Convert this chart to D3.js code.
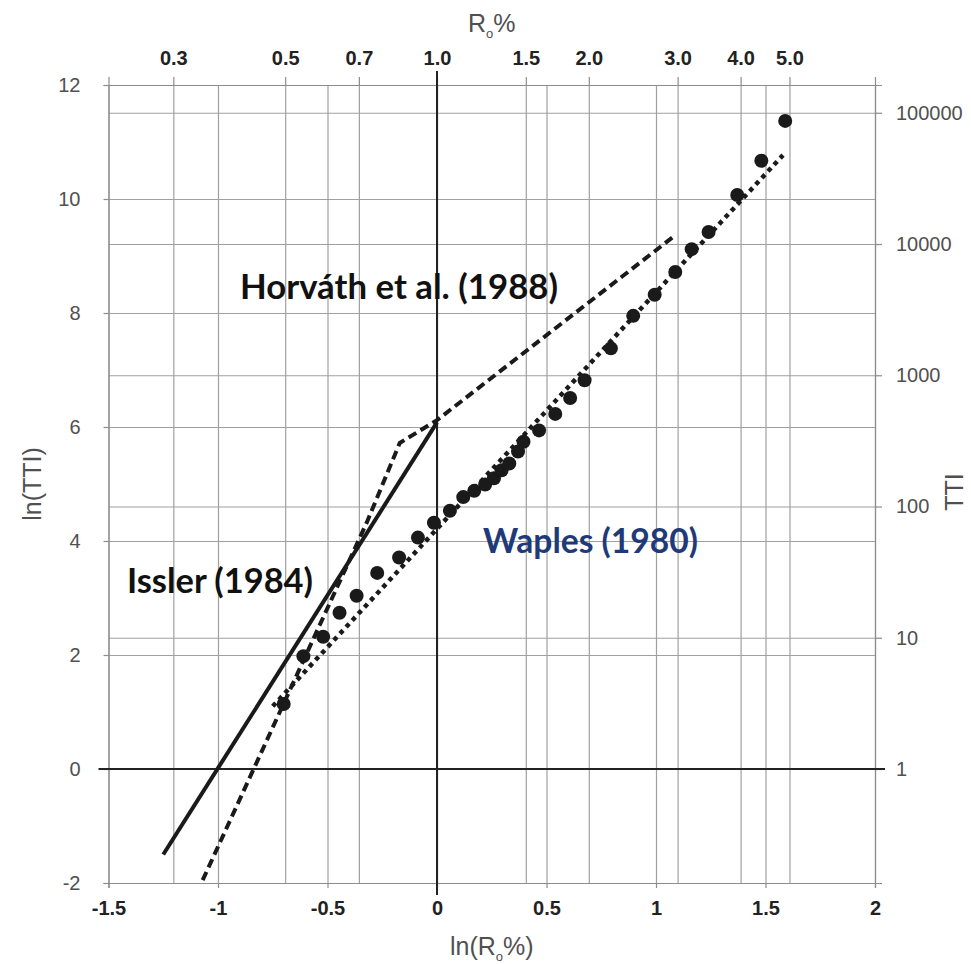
<!DOCTYPE html>
<html lang="en">

<head>
    <meta charset="UTF-8">
    <title>ln(TTI) vs ln(Ro%)</title>
    <style>
        body {
            margin: 0;
            background: #fff;
        }

        .grid line {
            stroke: #a0a0a0;
            stroke-width: 1.2px;
        }

        .grid path {
            stroke-width: 0;
        }

        .axis path,
        .axis line {
            stroke: #8c8c8c;
            stroke-width: 1.2px;
        }

        .axis text {
            font-family: 'Liberation Sans', Arial, sans-serif;
        }

        .axis-num text {
            font-size: 20px;
            fill: #505050;
        }

        .axis-bold text {
            font-size: 20px;
            font-weight: bold;
            fill: #222;
        }

        .axis-title {
            font-family: 'Liberation Sans', Arial, sans-serif;
            font-size: 25px;
            fill: #505050;
            text-anchor: middle;
        }

        .zero {
            stroke: #222;
            stroke-width: 2px;
        }

        .issler {
            fill: none;
            stroke: #1a1a1a;
            stroke-width: 4px;
        }

        .horvath {
            fill: none;
            stroke: #1a1a1a;
            stroke-width: 4px;
            stroke-dasharray: 9, 5;
        }

        .waples {
            fill: none;
            stroke: #1a1a1a;
            stroke-width: 4.5px;
            stroke-dasharray: 4.5, 4.5;
        }

        .dot {
            fill: #1a1a1a;
        }

        .note {
            font-family: Lato, 'Open Sans', sans-serif;
            font-weight: bold;
            font-size: 34px;
            fill: #111;
        }

        .note-blue {
            fill: #1f3a78;
        }
    </style>
</head>

<body>
    <script src="https://d3js.org/d3.v7.min.js"></script>
    <script>
        // tick values
        const xTicks = [-1.5, -1, -0.5, 0, 0.5, 1, 1.5, 2];
        const yTicks = [-2, 0, 2, 4, 6, 8, 10, 12];
        const roTicks = [0.3, 0.5, 0.7, 1.0, 1.5, 2.0, 3.0, 4.0, 5.0];
        const ttiTicks = [1, 10, 100, 1000, 10000, 100000];

        // measured points
        const lnRo = [-0.70, -0.61, -0.52, -0.445, -0.367, -0.273, -0.173, -0.087, -0.014, 0.059,
            0.12, 0.17, 0.22, 0.26, 0.295, 0.33, 0.37, 0.395, 0.466, 0.54, 0.608, 0.674,
            0.794, 0.896, 0.994, 1.088, 1.163, 1.24, 1.371, 1.481, 1.59];
        const lnTTI = [1.14, 1.98, 2.32, 2.74, 3.04, 3.44, 3.71, 4.06, 4.32, 4.53,
            4.77, 4.88, 4.99, 5.10, 5.24, 5.36, 5.57, 5.74, 5.94, 6.23, 6.51, 6.82,
            7.38, 7.95, 8.32, 8.72, 9.12, 9.42, 10.07, 10.67, 11.37];

        // published correlations
        const isslerX = [-1.25, 0];
        const isslerY = [-1.5, 6.08];
        const horvathX = [-1.07, -0.32, -0.17, 0, 1.09];
        const horvathY = [-1.95, 4.33, 5.72, 6.12, 9.37];
        const waplesX = [-0.75, 1.58];
        const waplesY = [1.1, 10.77];

        const svgWidth = 971;
        const svgHeight = 964;
        const margin = { top: 85, right: 96, bottom: 81, left: 108.5 };
        const width = svgWidth - margin.left - margin.right;
        const height = svgHeight - margin.top - margin.bottom;

        const xScale = d3.scaleLinear().domain([-1.5, 2]).range([0, width]);
        const yScale = d3.scaleLinear().domain([-2, 12]).range([height, 0]);

        const container = d3.select('body')
            .append('svg')
            .attr('width', svgWidth)
            .attr('height', svgHeight);
        const chart = container.append('g')
            .attr('transform', `translate(${margin.left}, ${margin.top})`);

        // grid
        const xGrid = xTicks.concat(roTicks.map(Math.log));
        const yGrid = yTicks.concat(ttiTicks.map(Math.log));

        chart.append('g')
            .attr('class', 'grid')
            .attr('transform', `translate(0, ${height})`)
            .call(d3.axisBottom(xScale).tickValues(xGrid).tickSize(-height).tickFormat(''));
        chart.append('g')
            .attr('class', 'grid')
            .call(d3.axisLeft(yScale).tickValues(yGrid).tickSize(-width).tickFormat(''));

        // axes (plain hyphen for negatives, as in the original)
        chart.append('g')
            .attr('class', 'axis axis-num')
            .call(d3.axisLeft(yScale).tickValues(yTicks).tickSize(5).tickPadding(23)
                .tickFormat(d => String(d)));
        chart.append('g')
            .attr('class', 'axis axis-num')
            .attr('transform', `translate(${width}, 0)`)
            .call(d3.axisRight(yScale).tickValues(ttiTicks.map(Math.log)).tickSize(7).tickPadding(14)
                .tickFormat((d, i) => ttiTicks[i]));
        chart.append('g')
            .attr('class', 'axis axis-bold')
            .attr('transform', `translate(0, ${height})`)
            .call(d3.axisBottom(xScale).tickValues(xTicks).tickSize(5).tickPadding(13)
                .tickFormat(d => String(d)));
        chart.append('g')
            .attr('class', 'axis axis-bold')
            .call(d3.axisTop(xScale).tickValues(roTicks.map(Math.log)).tickSize(8).tickPadding(12)
                .tickFormat((d, i) => roTicks[i].toFixed(1)));

        // zero lines
        chart.append('line')
            .attr('class', 'zero')
            .attr('x1', xScale(0)).attr('x2', xScale(0))
            .attr('y1', -14).attr('y2', height + 12);
        chart.append('line')
            .attr('class', 'zero')
            .attr('x1', -10).attr('x2', width + 10)
            .attr('y1', yScale(0)).attr('y2', yScale(0));

        // axis titles
        const topTitle = chart.append('text')
            .attr('class', 'axis-title')
            .attr('x', width / 2)
            .attr('y', -53);
        topTitle.append('tspan').text('R');
        topTitle.append('tspan').text('o').attr('font-size', 13).attr('dy', 6);
        topTitle.append('tspan').text('%').attr('dy', -6);

        const bottomTitle = chart.append('text')
            .attr('class', 'axis-title')
            .attr('x', width / 2)
            .attr('y', height + 72);
        bottomTitle.append('tspan').text('ln(R');
        bottomTitle.append('tspan').text('o').attr('font-size', 13).attr('dy', 6);
        bottomTitle.append('tspan').text('%)').attr('dy', -6);

        chart.append('text')
            .attr('class', 'axis-title')
            .attr('transform', `translate(${-68}, ${height / 2}) rotate(-90)`)
            .text('ln(TTI)');
        chart.append('text')
            .attr('class', 'axis-title')
            .attr('transform', `translate(${width + 88}, ${height / 2 + 8}) rotate(-90)`)
            .text('TTI');

        // correlation lines
        const line = d3.line()
            .x(_ => xScale(_[0]))
            .y(_ => yScale(_[1]));

        chart.append('path')
            .datum(isslerX.map((d, i) => [d, isslerY[i]]))
            .attr('class', 'issler')
            .attr('d', line);
        chart.append('path')
            .datum(horvathX.map((d, i) => [d, horvathY[i]]))
            .attr('class', 'horvath')
            .attr('d', line);
        chart.append('path')
            .datum(waplesX.map((d, i) => [d, waplesY[i]]))
            .attr('class', 'waples')
            .attr('d', line);

        chart.selectAll('.dot')
            .data(lnRo.map((d, i) => [d, lnTTI[i]]))
            .enter().append('circle')
            .attr('class', 'dot')
            .attr('r', 7)
            .attr('cx', _ => xScale(_[0]))
            .attr('cy', _ => yScale(_[1]));

        // labels
        chart.append('text')
            .attr('class', 'note')
            .attr('x', 240 - margin.left)
            .attr('y', 299 - margin.top)
            .attr('textLength', 318)
            .attr('lengthAdjust', 'spacingAndGlyphs')
            .text('Horváth et al. (1988)');
        chart.append('text')
            .attr('class', 'note')
            .attr('x', 127 - margin.left)
            .attr('y', 593 - margin.top)
            .attr('textLength', 186)
            .attr('lengthAdjust', 'spacingAndGlyphs')
            .text('Issler (1984)');
        chart.append('text')
            .attr('class', 'note note-blue')
            .attr('x', 483 - margin.left)
            .attr('y', 553 - margin.top)
            .attr('textLength', 215)
            .attr('lengthAdjust', 'spacingAndGlyphs')
            .text('Waples (1980)');
    </script>
</body>

</html>
